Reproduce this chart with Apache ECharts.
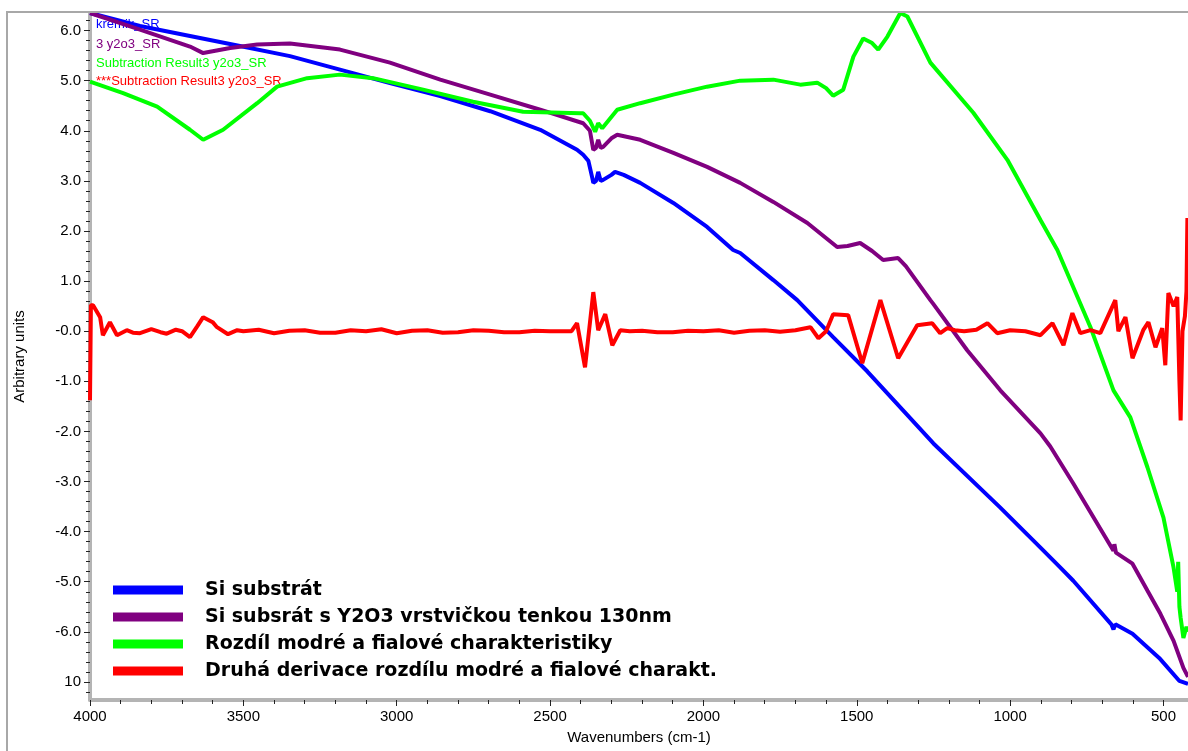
<!DOCTYPE html>
<html>
<head>
<meta charset="utf-8">
<script src="https://cdn.jsdelivr.net/npm/echarts@6/dist/echarts.min.js"></script>
<style>html,body{margin:0;padding:0;background:#fff}#c{width:1188px;height:751px}</style>
</head>
<body>
<div id="c"></div>
<script>
// ---- data (wavenumber cm-1, arbitrary units) ----
const seriesNames = [
  'Si substrát',
  'Si subsrát s Y2O3 vrstvičkou tenkou 130nm',
  'Rozdíl modré a fialové charakteristiky',
  'Druhá derivace rozdílu modré a fialové charakt.'
];
const fileLabels = ['kremik_SR', '3 y2o3_SR', 'Subtraction Result3 y2o3_SR', '***Subtraction Result3 y2o3_SR'];
const xMajorTicks = [4000, 3500, 3000, 2500, 2000, 1500, 1000, 500];
const yMajorTicks = [6, 5, 4, 3, 2, 1, 0, -1, -2, -3, -4, -5, -6, -7];

const siSubstrat = [[4000,6.35],[3837,6.09],[3674,5.89],[3511,5.69],[3348,5.49],[3185,5.22],[3022,4.95],[2858,4.69],[2695,4.39],[2532,4.02],[2412,3.62],[2392,3.52],[2375,3.4],[2362,3.05],[2359,2.96],[2350,3.0],[2343,3.18],[2335,3.0],[2327,3.02],[2300,3.12],[2288,3.18],[2260,3.12],[2206,2.96],[2098,2.56],[1988,2.08],[1903,1.62],[1880,1.56],[1772,1.02],[1694,0.62],[1577,-0.12],[1466,-0.8],[1250,-2.24],[1032,-3.52],[901,-4.32],[836,-4.72],[794,-4.98],[670,-5.85],[663,-5.95],[657,-5.85],[601,-6.04],[514,-6.52],[448,-6.98],[420,-7.04]];

const siY2O3 = [[4000,6.35],[3837,6.02],[3674,5.68],[3631,5.55],[3543,5.65],[3455,5.72],[3348,5.74],[3185,5.62],[3022,5.36],[2858,5.02],[2695,4.72],[2532,4.42],[2392,4.15],[2370,4.0],[2359,3.62],[2350,3.66],[2343,3.82],[2335,3.66],[2327,3.68],[2300,3.85],[2281,3.92],[2206,3.82],[2098,3.56],[1988,3.28],[1880,2.96],[1772,2.58],[1661,2.16],[1564,1.68],[1530,1.7],[1489,1.76],[1450,1.6],[1414,1.42],[1365,1.46],[1340,1.3],[1260,0.62],[1250,0.54],[1140,-0.38],[1032,-1.18],[901,-2.04],[869,-2.3],[794,-3.04],[663,-4.38],[660,-4.25],[655,-4.42],[601,-4.64],[552,-5.18],[510,-5.64],[467,-6.18],[435,-6.72],[420,-6.9]];

const rozdil = [[4000,4.98],[3892,4.75],[3781,4.48],[3674,4.02],[3631,3.82],[3566,4.02],[3455,4.55],[3390,4.88],[3292,5.05],[3185,5.12],[3077,5.05],[2914,4.82],[2751,4.58],[2588,4.38],[2402,4.35],[2392,4.35],[2370,4.2],[2353,3.98],[2343,4.15],[2330,4.05],[2281,4.42],[2206,4.55],[2098,4.72],[1988,4.88],[1880,5.0],[1772,5.02],[1684,4.92],[1629,4.96],[1600,4.85],[1577,4.7],[1544,4.82],[1511,5.48],[1479,5.84],[1450,5.75],[1430,5.62],[1400,5.88],[1358,6.35],[1335,6.28],[1260,5.36],[1120,4.36],[1009,3.42],[901,2.22],[846,1.62],[738,0.08],[663,-1.18],[608,-1.72],[552,-2.72],[500,-3.72],[467,-4.72],[455,-5.2],[452,-4.6],[448,-5.5],[444,-5.72],[435,-6.12],[425,-5.9],[420,-6.0]];

const druhaDerivace = [[4000,-1.38],[3997,0.52],[3990,0.52],[3967,0.28],[3958,-0.08],[3935,0.18],[3912,-0.08],[3880,0.02],[3860,-0.03],[3837,-0.04],[3800,0.04],[3770,-0.02],[3750,-0.05],[3720,0.03],[3700,0.0],[3674,-0.12],[3650,0.1],[3631,0.28],[3600,0.18],[3586,0.08],[3550,-0.06],[3520,0.02],[3500,0.0],[3450,0.03],[3400,-0.04],[3350,0.01],[3300,0.02],[3250,-0.03],[3200,-0.03],[3150,0.02],[3100,0.0],[3050,0.04],[3000,-0.04],[2950,0.01],[2900,0.02],[2850,-0.03],[2800,-0.02],[2750,0.02],[2700,0.01],[2650,-0.02],[2600,-0.02],[2550,0.01],[2500,0.0],[2430,0.0],[2412,0.16],[2386,-0.72],[2359,0.78],[2343,0.02],[2320,0.34],[2297,-0.28],[2271,0.02],[2240,0.0],[2200,0.01],[2150,-0.02],[2100,-0.02],[2050,0.01],[2000,0.0],[1950,0.02],[1900,-0.03],[1850,0.01],[1800,0.02],[1750,-0.01],[1700,0.02],[1651,0.08],[1625,-0.14],[1600,0.0],[1577,0.34],[1528,0.32],[1482,-0.64],[1423,0.62],[1365,-0.54],[1303,0.12],[1254,0.16],[1228,-0.04],[1205,0.06],[1180,0.02],[1150,0.0],[1110,0.03],[1074,0.16],[1042,-0.04],[1000,0.02],[950,0.0],[901,-0.08],[862,0.16],[826,-0.28],[797,0.36],[771,-0.04],[738,0.02],[706,-0.04],[657,0.62],[647,0.0],[624,0.28],[601,-0.54],[566,0.02],[549,0.18],[526,-0.32],[504,0.06],[494,-0.68],[484,0.76],[467,0.5],[455,0.68],[448,-1.0],[444,-1.78],[438,0.0],[430,0.3],[425,0.8],[422,2.26],[420,2.26]];

const seriesData = [siSubstrat, siY2O3, rozdil, druhaDerivace];
const colors = ['#0000ff', '#800080', '#00ff00', '#ff0000'];

// minor tick values
const xMinorTicks = [];
for (let v = 500; v <= 4000; v += 100) if (v % 500 !== 0) xMinorTicks.push(v);
const yMinorTicks = [];
for (let i = -36; i <= 31; i++) if (i % 5 !== 0) yMinorTicks.push(+(i * 0.2).toFixed(1));

const X_MIN = 420, X_MAX = 4000, Y_MIN = -7.36, Y_MAX = 6.35;
const axisGray = '#b4b4b4';

const chart = echarts.init(document.getElementById('c'), null, {renderer: 'canvas'});
const option = {
  animation: false,
  backgroundColor: '#fff',
  grid: {left: 90, right: 0, top: 13, bottom: 51},
  xAxis: [{
    type: 'value', inverse: true, min: X_MIN, max: X_MAX,
    name: 'Wavenumbers (cm-1)', nameLocation: 'middle', nameGap: 30,
    nameTextStyle: {fontFamily: 'Liberation Sans Narrow, Liberation Sans, Arial', fontSize: 15, color: '#000'},
    axisLine: {show: true, onZero: false, lineStyle: {color: axisGray, width: 4}},
    axisTick: {show: true, customValues: xMajorTicks, length: 6, lineStyle: {color: '#222', width: 1}},
    axisLabel: {customValues: xMajorTicks, formatter: v => String(v), fontFamily: 'Liberation Sans Narrow, Liberation Sans, Arial', fontSize: 15, color: '#000', margin: 9},
    splitLine: {show: false}
  }, {
    type: 'value', inverse: true, min: X_MIN, max: X_MAX, position: 'bottom',
    axisLine: {show: false, onZero: false},
    axisTick: {show: true, customValues: xMinorTicks, length: 4, lineStyle: {color: '#222', width: 1}},
    axisLabel: {show: false, customValues: xMinorTicks},
    splitLine: {show: false}
  }],
  yAxis: [{
    type: 'value', min: Y_MIN, max: Y_MAX,
    name: 'Arbitrary units', nameLocation: 'middle', nameGap: 63,
    nameTextStyle: {fontFamily: 'Liberation Sans Narrow, Liberation Sans, Arial', fontSize: 15, color: '#000'},
    axisLine: {show: true, onZero: false, lineStyle: {color: axisGray, width: 4}},
    axisTick: {show: true, customValues: yMajorTicks, length: 6, lineStyle: {color: '#222', width: 1}},
    axisLabel: {
      customValues: yMajorTicks, fontFamily: 'Liberation Sans, Arial', fontSize: 15, color: '#000', margin: 9,
      formatter: v => (Math.abs(v + 7) < 1e-6 ? '10' : (Math.abs(v) < 1e-6 ? '-0.0' : v.toFixed(1)))
    },
    splitLine: {show: false}
  }, {
    type: 'value', min: Y_MIN, max: Y_MAX, position: 'left',
    axisLine: {show: false, onZero: false},
    axisTick: {show: true, customValues: yMinorTicks, length: 4, lineStyle: {color: '#222', width: 1}},
    axisLabel: {show: false, customValues: yMinorTicks},
    splitLine: {show: false}
  }],
  legend: {
    orient: 'vertical', left: 113, top: 580, icon: 'rect', padding: 0,
    itemWidth: 70, itemHeight: 9, itemGap: 7, selectedMode: false,
    data: seriesNames,
    textStyle: {fontFamily: 'DejaVu Sans, Liberation Sans, Arial', fontWeight: 'bold', fontSize: 19, color: '#000', lineHeight: 20, padding: [0, 0, 0, 17]}
  },
  graphic: [
    {type: 'line', silent: true, z: 100, shape: {x1: 7, y1: 11, x2: 7, y2: 751}, style: {stroke: '#a8a8a8', lineWidth: 2}},
    {type: 'line', silent: true, z: 100, shape: {x1: 6, y1: 12, x2: 1188, y2: 12}, style: {stroke: '#a8a8a8', lineWidth: 2}}
  ].concat(fileLabels.map((t, i) => ({
    type: 'text', silent: true, z: -1, left: 96, top: [18, 38, 57, 75][i],
    style: {text: t, fill: colors[i], font: '13px "Liberation Sans", Arial'}
  }))),
  series: seriesData.map((d, i) => ({
    name: seriesNames[i], type: 'line', data: d, showSymbol: false, clip: true,
    color: colors[i], lineStyle: {color: colors[i], width: 4}, z: 2 + i
  }))
};
chart.setOption(option);
</script>
</body>
</html>
